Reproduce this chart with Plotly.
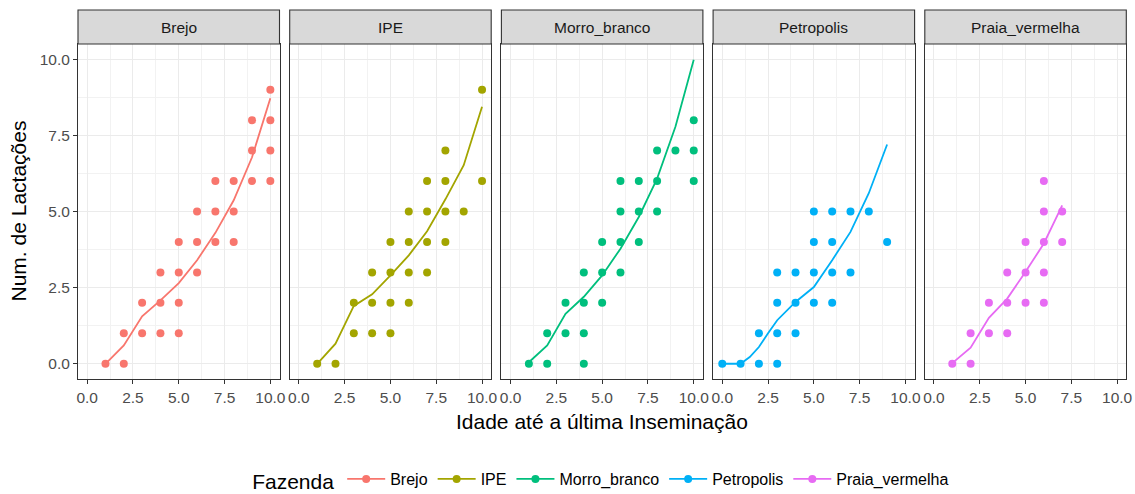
import plotly.graph_objects as go

# ---------------- data ----------------
farms = ["Brejo", "IPE", "Morro_branco", "Petropolis", "Praia_vermelha"]
colors = ["#F8766D", "#A3A500", "#00BF7D", "#00B0F6", "#E76BF3"]

brejo_x = [1, 2, 2, 3, 4, 5, 3, 4, 5, 4, 5, 6, 5, 6, 7, 8, 6, 7, 8, 7, 8, 9, 10, 9, 10, 9, 10, 10]
brejo_y = [0, 0, 1, 1, 1, 1, 2, 2, 2, 3, 3, 3, 4, 4, 4, 4, 5, 5, 5, 6, 6, 6, 6, 7, 7, 8, 8, 9]
brejo_fit_x = [1, 2, 3, 4, 5, 6, 7, 8, 9, 10]
brejo_fit_y = [0.0, 0.6, 1.56, 2.08, 2.65, 3.4, 4.3, 5.37, 6.78, 8.72]

ipe_x = [1, 2, 3, 4, 5, 3, 4, 5, 6, 4, 5, 6, 7, 5, 6, 7, 8, 6, 7, 8, 9, 7, 8, 10, 8, 10]
ipe_y = [0, 0, 1, 1, 1, 2, 2, 2, 2, 3, 3, 3, 3, 4, 4, 4, 4, 5, 5, 5, 5, 6, 6, 6, 7, 9]
ipe_fit_x = [1, 2, 3, 4, 5, 6, 7, 8, 9, 10]
ipe_fit_y = [0.0, 0.66, 1.9, 2.28, 2.9, 3.56, 4.35, 5.4, 6.52, 8.44]

morro_x = [1, 2, 4, 2, 3, 4, 3, 4, 5, 4, 5, 6, 5, 6, 7, 6, 7, 8, 6, 7, 8, 10, 8, 9, 10, 10]
morro_y = [0, 0, 0, 1, 1, 1, 2, 2, 2, 3, 3, 3, 4, 4, 4, 5, 5, 5, 6, 6, 6, 6, 7, 7, 7, 8]
morro_fit_x = [1, 2, 3, 4, 5, 6, 7, 8, 9, 10]
morro_fit_y = [0.05, 0.6, 1.64, 2.2, 2.9, 3.78, 4.82, 6.08, 7.78, 9.98]

petro_x = [0, 1, 2, 3, 2, 3, 4, 3, 4, 5, 6, 3, 4, 5, 6, 7, 5, 6, 9, 5, 6, 7, 8]
petro_y = [0, 0, 0, 0, 1, 1, 1, 2, 2, 2, 2, 3, 3, 3, 3, 3, 4, 4, 4, 5, 5, 5, 5]
petro_fit_x = [0, 1, 1.5, 2, 2.5, 3, 4, 5, 6, 7, 8, 9]
petro_fit_y = [0.0, 0.0, 0.22, 0.55, 1.0, 1.43, 2.03, 2.52, 3.4, 4.33, 5.6, 7.2]

praia_x = [1, 2, 2, 3, 4, 3, 4, 5, 6, 4, 5, 6, 5, 6, 7, 6, 7, 6]
praia_y = [0, 0, 1, 1, 1, 2, 2, 2, 2, 3, 3, 3, 4, 4, 4, 5, 5, 6]
praia_fit_x = [1, 2, 3, 4, 5, 6, 7]
praia_fit_y = [0.02, 0.53, 1.51, 2.14, 3.02, 3.95, 5.2]

points = [(brejo_x, brejo_y), (ipe_x, ipe_y), (morro_x, morro_y), (petro_x, petro_y), (praia_x, praia_y)]
fits = [(brejo_fit_x, brejo_fit_y), (ipe_fit_x, ipe_fit_y), (morro_fit_x, morro_fit_y),
        (petro_fit_x, petro_fit_y), (praia_fit_x, praia_fit_y)]

tick_vals = [0, 2.5, 5, 7.5, 10]
tick_text = ["0.0", "2.5", "5.0", "7.5", "10.0"]

# ---------------- layout geometry ----------------
W, H = 1135, 494
ML, MR, MT, MB = 78, 8, 44, 115
PW = W - ML - MR
PH = H - MT - MB
panel_w = 201.5
step = 211.7

FONT = "Liberation Sans, Arial, sans-serif"
SMALL = 15.5
LEG = 16
BIG = 21

fig = go.Figure()

for i, farm in enumerate(farms):
    ax = "" if i == 0 else str(i + 1)
    px, py = points[i]
    fx, fy = fits[i]
    fig.add_trace(go.Scatter(x=fx, y=fy, mode="lines", line=dict(color=colors[i], width=1.8),
                             xaxis="x" + ax, yaxis="y" + ax, showlegend=False, hoverinfo="skip"))
    fig.add_trace(go.Scatter(x=px, y=py, mode="markers", marker=dict(color=colors[i], size=8),
                             xaxis="x" + ax, yaxis="y" + ax, showlegend=False))
    # legend entry
    fig.add_trace(go.Scatter(x=[None], y=[None], mode="lines+markers", name=farm,
                             line=dict(color=colors[i], width=1.8), marker=dict(color=colors[i], size=8),
                             xaxis="x" + ax, yaxis="y" + ax, showlegend=True))

    left = ML + i * step
    d0 = (left - ML) / PW
    d1 = (left + panel_w - ML) / PW
    xa = dict(domain=[d0, d1], range=[-0.5, 10.5], tickvals=tick_vals, ticktext=tick_text,
              showgrid=True, gridcolor="#EBEBEB", gridwidth=1.1, zeroline=False,
              minor=dict(tickvals=[1.25, 3.75, 6.25, 8.75], showgrid=True, gridcolor="#F2F2F2", gridwidth=0.6, ticks=""),
              showline=True, mirror=True, linecolor="#333333", linewidth=1.1,
              ticks="outside", ticklen=4, tickcolor="#333333", tickwidth=1.1,
              tickfont=dict(family=FONT, size=SMALL, color="#4D4D4D"), anchor="y" + ax,
              fixedrange=True, automargin=False)
    ya = dict(domain=[0, 1], range=[-0.5, 10.5], tickvals=tick_vals, ticktext=tick_text,
              showgrid=True, gridcolor="#EBEBEB", gridwidth=1.1, zeroline=False,
              minor=dict(tickvals=[1.25, 3.75, 6.25, 8.75], showgrid=True, gridcolor="#F2F2F2", gridwidth=0.6, ticks=""),
              showline=True, mirror=True, linecolor="#333333", linewidth=1.1,
              anchor="x" + ax, fixedrange=True, automargin=False)
    if i == 0:
        ya.update(ticks="outside", ticklen=4, tickcolor="#333333", tickwidth=1.1,
                  tickfont=dict(family=FONT, size=SMALL, color="#4D4D4D"))
    else:
        ya.update(ticks="", showticklabels=False)
    fig.layout["xaxis" + ax] = xa
    fig.layout["yaxis" + ax] = ya

    # facet strip
    strip_top = 1 + 34 / PH
    fig.add_shape(type="rect", xref="paper", yref="paper", x0=d0, x1=d1, y0=1, y1=strip_top,
                  fillcolor="#D9D9D9", line=dict(color="#333333", width=1.1), layer="above")
    fig.add_annotation(xref="paper", yref="paper", x=(d0 + d1) / 2, y=1 + 17 / PH, text=farm,
                       showarrow=False, font=dict(family=FONT, size=SMALL, color="#1A1A1A"),
                       xanchor="center", yanchor="middle")

panel_right = (4 * step + panel_w) / PW
fig.add_annotation(xref="paper", yref="paper", x=panel_right / 2, y=-(421 - (MT + PH)) / PH,
                   text="Idade até a última Inseminação", showarrow=False,
                   font=dict(family=FONT, size=BIG, color="#000000"), xanchor="center", yanchor="middle")
fig.add_annotation(xref="paper", yref="paper", x=-(ML - 18) / PW, y=0.5,
                   text="Num. de Lactações", showarrow=False, textangle=-90,
                   font=dict(family=FONT, size=BIG, color="#000000"), xanchor="center", yanchor="middle")

fig.update_layout(
    width=W, height=H,
    margin=dict(l=ML, r=MR, t=MT, b=MB, autoexpand=False),
    paper_bgcolor="white", plot_bgcolor="white",
    showlegend=True,
    legend=dict(orientation="h", x=panel_right / 2, xanchor="center", y=-(481 - (MT + PH)) / PH,
                yanchor="middle", title=dict(text="Fazenda", side="left",
                                             font=dict(family=FONT, size=BIG, color="#000000")),
                font=dict(family=FONT, size=LEG, color="#000000"), itemwidth=38,
                bgcolor="rgba(0,0,0,0)"),
    hovermode=False,
)

fig.write_html("out.html", config={"displayModeBar": False},
               post_script="document.body.style.margin='0px';document.body.style.overflow='hidden';")
